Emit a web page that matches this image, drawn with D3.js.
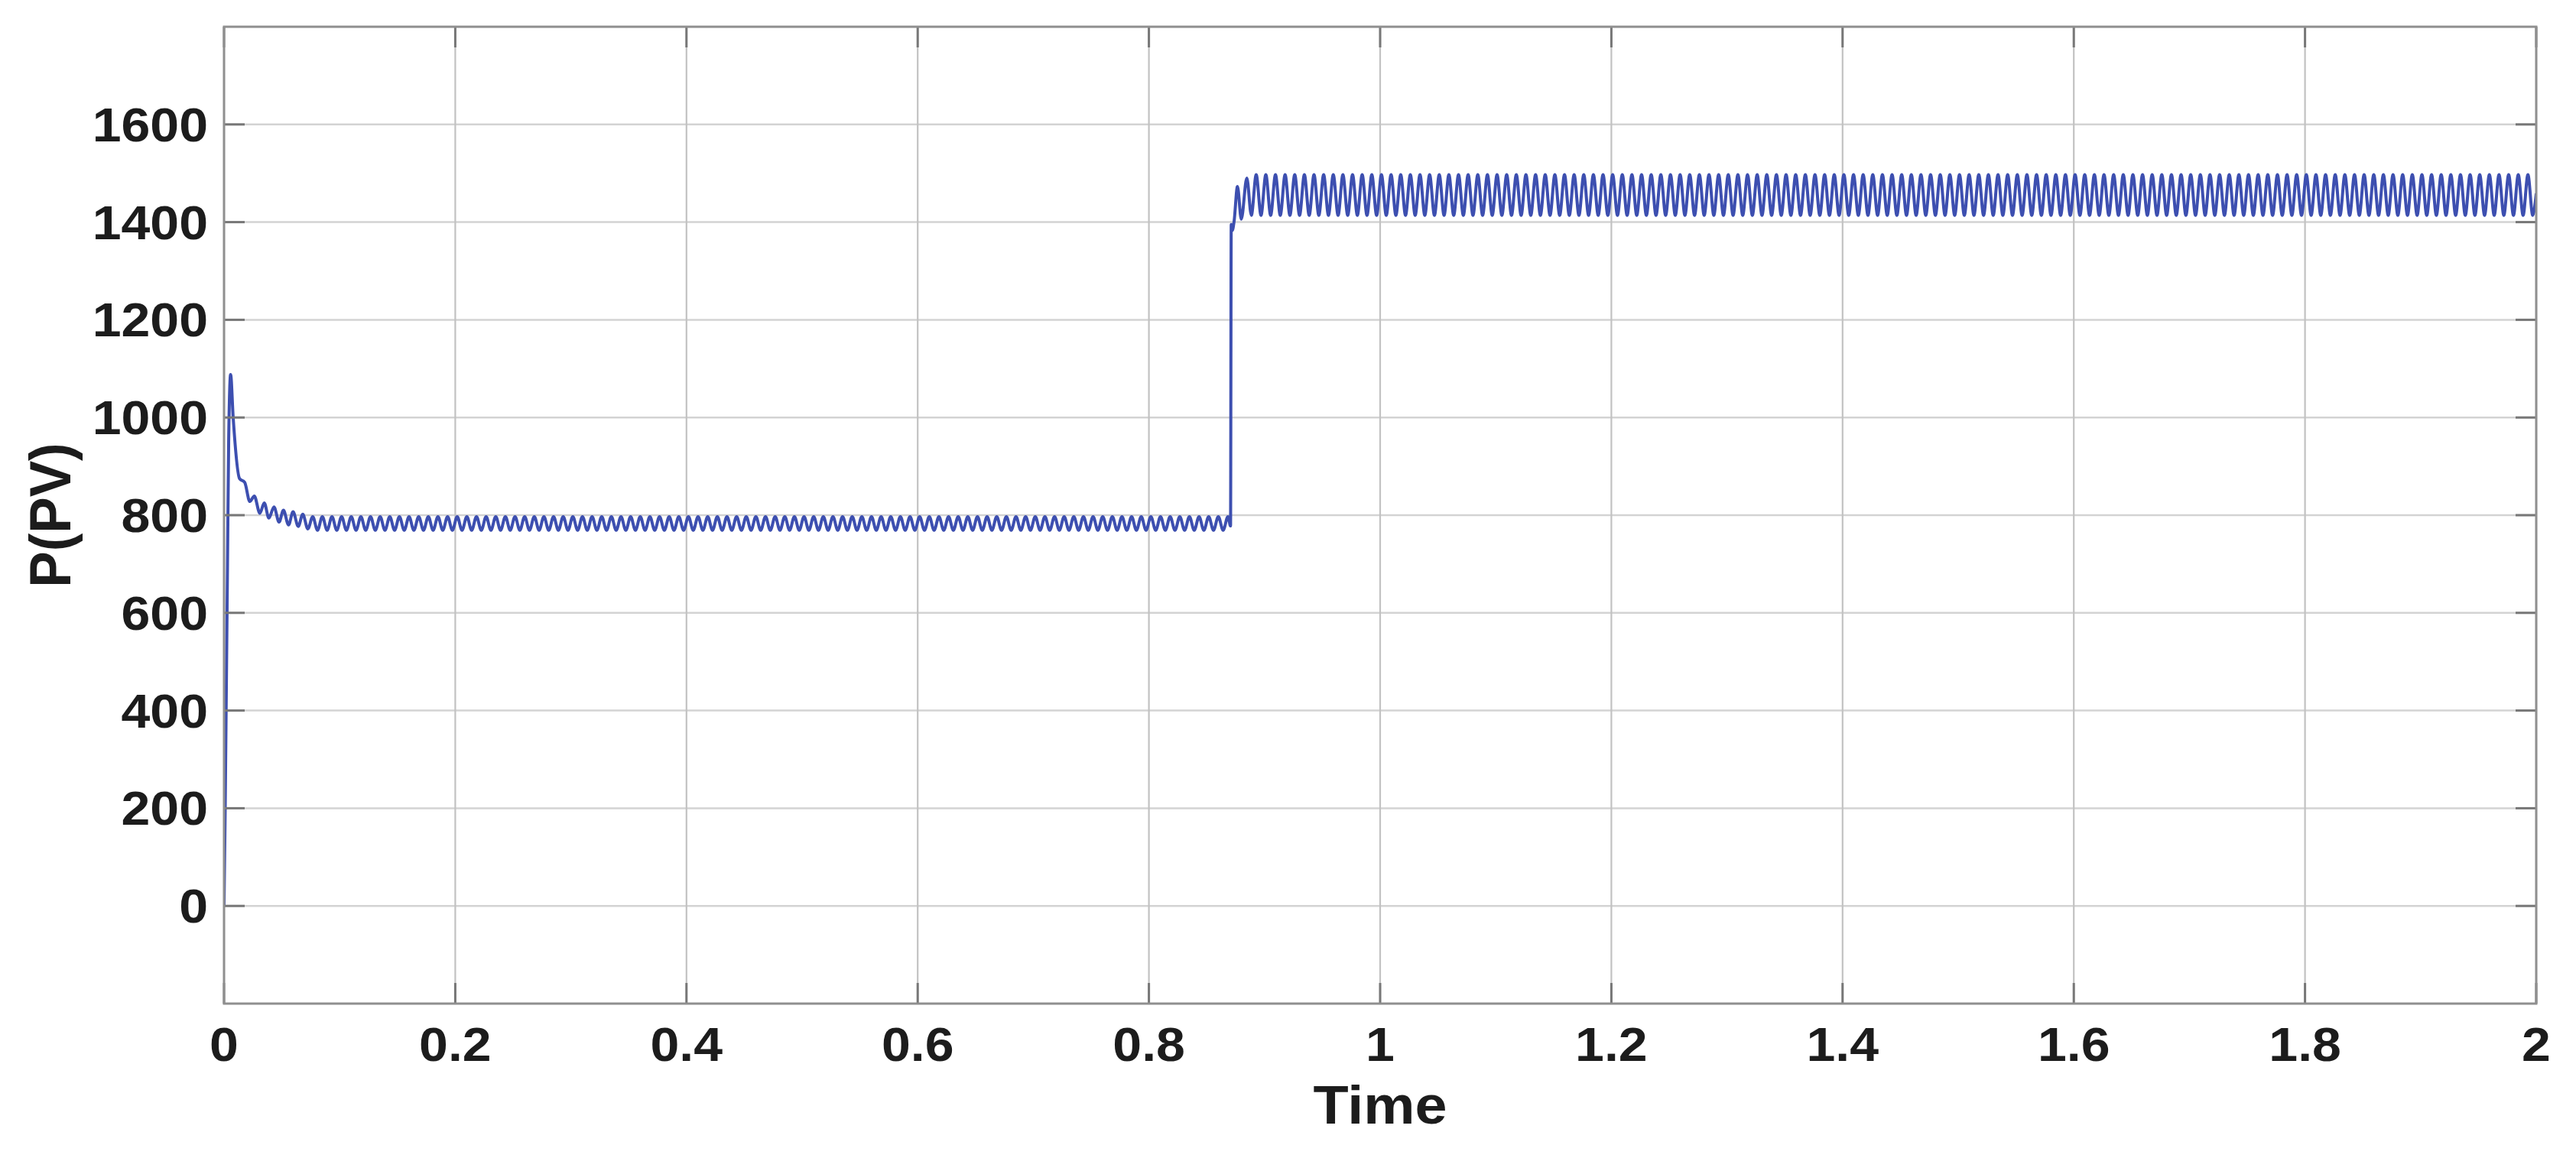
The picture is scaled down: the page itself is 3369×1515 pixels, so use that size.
<!DOCTYPE html>
<html>
<head>
<meta charset="utf-8">
<script src="https://cdn.jsdelivr.net/npm/d3@7.9.0/dist/d3.min.js"></script>
<style>
  html, body { margin: 0; padding: 0; background: #fff; }
  svg { display: block; }
  text { font-family: "Liberation Sans", Arial, Helvetica, sans-serif; font-weight: bold; fill: #1c1c1c; }
</style>
</head>
<body>
<svg id="chart" width="3369" height="1515"></svg>
<script>
// axis ticks
const xTicks = [0, 0.2, 0.4, 0.6, 0.8, 1, 1.2, 1.4, 1.6, 1.8, 2];
const yTicks = [0, 200, 400, 600, 800, 1000, 1200, 1400, 1600];

// start-up transient (time s, power W)
const startT = [0, 0.001, 0.002, 0.003, 0.004, 0.0057, 0.0079, 0.0134, 0.0179, 0.0223, 0.0262, 0.031, 0.0348, 0.0388, 0.0432, 0.0476, 0.0514, 0.0558, 0.0597, 0.0642, 0.0681, 0.0725];
const startP = [0, 200, 450, 700, 950, 1088, 1000, 875, 867, 828, 839, 804, 825, 794, 817, 786, 810, 780, 807, 777, 802, 772];

// irradiance step around t = 0.87 s
const stepT = [0.8706, 0.8712, 0.8721, 0.8737, 0.8766, 0.8799, 0.8847, 0.8886];
const stepP = [778, 1395, 1383, 1402, 1473, 1406, 1490, 1414];

// steady ripple: 24 cycles per 0.2 s in the picture
const rippleHz = 120;
const rippleFrom = [0.0767, 0.8928];
const rippleTo = [0.8684, 1.9971];
const rippleHigh = [797, 1497];
const rippleLow = [769, 1414];

// value at the right edge
const endT = [2];
const endP = [1459];

const W = 3369, H = 1515;
const margin = { left: 293, right: 3369 - 3317, top: 35, bottom: 1515 - 1313 };
const svg = d3.select('#chart');

const x = d3.scaleLinear().domain([0, 2]).range([margin.left, W - margin.right]);
const y = d3.scaleLinear().domain([-200, 1800]).range([H - margin.bottom, margin.top]);

// grid
svg.append('g').selectAll('line').data(yTicks).join('line')
    .attr('x1', x(0)).attr('x2', x(2))
    .attr('y1', d => y(d)).attr('y2', d => y(d))
    .attr('stroke', '#d3d3d3').attr('stroke-width', 2.5);
svg.append('g').selectAll('line').data(xTicks).join('line')
    .attr('x1', d => x(d)).attr('x2', d => x(d))
    .attr('y1', y(-200)).attr('y2', y(1800))
    .attr('stroke', '#c2c2c2').attr('stroke-width', 2.2);

// build the series from the read values
function rippleSeries(i) {
    const pts = [];
    const half = 1 / (2 * rippleHz);
    for (let k = 0; ; k++) {
        const t = rippleFrom[i] + k * half;
        if (t > rippleTo[i] + 1e-9) break;
        pts.push([t, k % 2 === 0 ? rippleHigh[i] : rippleLow[i]]);
    }
    return pts;
}
const series = [
    ...startT.map((t, i) => [t, startP[i]]),
    ...rippleSeries(0),
    ...stepT.map((t, i) => [t, stepP[i]]),
    ...rippleSeries(1),
    ...endT.map((t, i) => [t, endP[i]])
];

svg.append('clipPath').attr('id', 'clip')
  .append('rect')
    .attr('x', x(0)).attr('y', y(1800))
    .attr('width', x(2) - x(0)).attr('height', y(-200) - y(1800));

const line = d3.line()
    .x(d => x(d[0]))
    .y(d => y(d[1]))
    .curve(d3.curveMonotoneX);

svg.append('path')
    .datum(series)
    .attr('clip-path', 'url(#clip)')
    .attr('fill', 'none')
    .attr('stroke', '#3d4fb0')
    .attr('stroke-width', 4)
    .attr('stroke-linejoin', 'round')
    .attr('d', line);

// inward ticks on all four sides (matlab style)
const tickLen = 27;
const ticks = svg.append('g').attr('stroke', '#777').attr('stroke-width', 3);
xTicks.forEach(d => {
    ticks.append('line').attr('x1', x(d)).attr('x2', x(d)).attr('y1', y(-200)).attr('y2', y(-200) - tickLen);
    ticks.append('line').attr('x1', x(d)).attr('x2', x(d)).attr('y1', y(1800)).attr('y2', y(1800) + tickLen);
});
yTicks.forEach(d => {
    ticks.append('line').attr('x1', x(0)).attr('x2', x(0) + tickLen).attr('y1', y(d)).attr('y2', y(d));
    ticks.append('line').attr('x1', x(2)).attr('x2', x(2) - tickLen).attr('y1', y(d)).attr('y2', y(d));
});

// box
svg.append('rect')
    .attr('x', x(0)).attr('y', y(1800))
    .attr('width', x(2) - x(0)).attr('height', y(-200) - y(1800))
    .attr('fill', 'none').attr('stroke', '#8f8f8f').attr('stroke-width', 3);

// tick labels (picture is a little wider than tall, so text is stretched)
const sx = 1.08;
svg.append('g').selectAll('text').data(xTicks).join('text')
    .attr('transform', d => `translate(${x(d)},1388) scale(${sx},1)`)
    .attr('text-anchor', 'middle')
    .attr('font-size', 63)
    .text(d => d3.format('~g')(d));

svg.append('g').selectAll('text').data(yTicks).join('text')
    .attr('transform', d => `translate(272,${y(d) + 22}) scale(${sx},1)`)
    .attr('text-anchor', 'end')
    .attr('font-size', 63)
    .text(d => d);

// axis titles
svg.append('text')
    .attr('transform', `translate(${(x(0) + x(2)) / 2},1470) scale(${sx},1)`)
    .attr('text-anchor', 'middle')
    .attr('font-size', 70)
    .text('Time');

svg.append('text')
    .attr('transform', `translate(92,${y(800)}) scale(${sx},1) rotate(-90)`)
    .attr('text-anchor', 'middle')
    .attr('font-size', 71)
    .text('P(PV)');
</script>
</body>
</html>
